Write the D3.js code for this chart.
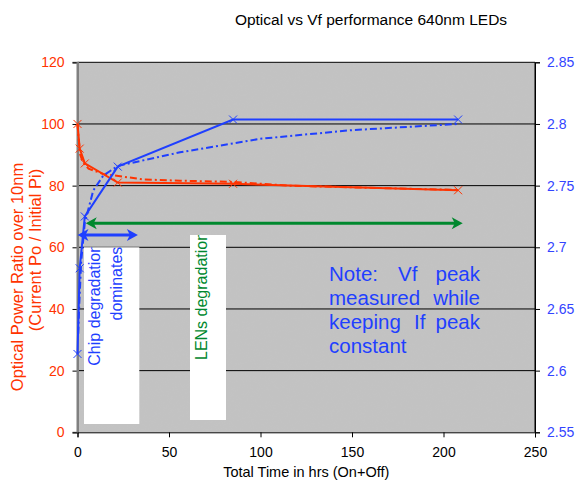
<!DOCTYPE html>
<html><head><meta charset="utf-8">
<script src="https://cdn.jsdelivr.net/npm/d3@7"></script>
<style>html,body{margin:0;padding:0;background:#fff;}svg{display:block;font-family:Arial,"Liberation Sans",sans-serif;}</style>
</head><body><svg id="c" width="577" height="489"></svg>
<script>
// ---- data ----
const title = "Optical vs Vf performance 640nm LEDs";
const xTicks = [0, 50, 100, 150, 200, 250];
const leftTicks = [0, 20, 40, 60, 80, 100, 120];
const rightTicks = [2.55, 2.6, 2.65, 2.7, 2.75, 2.8, 2.85];
// solid series (with markers)
const markTime   = [0, 1.2, 4, 22, 85, 208];
const opticalA   = [100, 92, 87.2, 81, 80.6, 78.5];
const vfA        = [2.6135, 2.683, 2.725, 2.7654, 2.8036, 2.8036];
// dash-dot series
const opticalBTime = [0, 0.5, 1.5, 3, 6, 14, 36, 56, 85, 115, 160, 208];
const opticalB     = [100, 96, 90, 87.5, 85.5, 83.8, 82, 81.6, 81.2, 80, 79.3, 78.6];
const vfBTime = [0.4, 1, 2, 4, 8.6, 14, 22, 56, 100, 150, 208];
const vfB     = [2.63, 2.655, 2.688, 2.72, 2.746, 2.758, 2.766, 2.777, 2.788, 2.795, 2.80];
// annotation arrows (x in hrs, y in left-axis units)
const chipArrow = [0, 33, 64];
const lensArrow = [4.5, 210.5, 67.8];

const RED = "#ff3300", BLUE = "#1f3fff", GREEN = "#00882e", LBLUE = "#3344ff";
const svg = d3.select("#c");
const L = 77.5, R = 535, T = 62.3, B = 432.3;
const x = d3.scaleLinear().domain([0, 250]).range([L, R]);
const yL = d3.scaleLinear().domain([0, 120]).range([B, T]);
const yR = d3.scaleLinear().domain([2.55, 2.85]).range([B, T]);

const defs = svg.append("defs");
const f = defs.append("filter").attr("id", "noise").attr("x", 0).attr("y", 0).attr("width", "100%").attr("height", "100%");
f.append("feTurbulence").attr("type", "fractalNoise").attr("baseFrequency", 0.95).attr("numOctaves", 1).attr("seed", 3);
f.append("feColorMatrix").attr("type", "matrix").attr("values", "0 0 0 0 0.5  0 0 0 0 0.5  0 0 0 0 0.5  0 0 0 0.35 0");
f.append("feComposite").attr("in2", "SourceGraphic").attr("operator", "in");

svg.append("rect").attr("x", L).attr("y", T).attr("width", R - L).attr("height", B - T).attr("fill", "#c3c3c3");
svg.append("rect").attr("x", L).attr("y", T).attr("width", R - L).attr("height", B - T).attr("fill", "#c3c3c3").attr("filter", "url(#noise)").attr("opacity", 0.5);

// gridlines
svg.append("g").selectAll("line").data(leftTicks.filter(d => d > 0)).join("line")
  .attr("x1", L).attr("x2", R).attr("y1", d => yL(d)).attr("y2", d => yL(d))
  .attr("stroke", "#000").attr("stroke-width", 1);
svg.append("line").attr("x1", R).attr("x2", R).attr("y1", T).attr("y2", B).attr("stroke", "#000");

// axes
const fs = "14px";
const gl = svg.append("g").attr("transform", `translate(${L},0)`)
  .call(d3.axisLeft(yL).tickValues(leftTicks).tickSize(5).tickPadding(8).tickFormat(d3.format("d")));
gl.select(".domain").attr("stroke", "#808080").attr("stroke-width", 2);
gl.selectAll(".tick line").attr("stroke", "#000");
gl.selectAll("text").attr("fill", RED).style("font-size", fs).style("font-family", "Arial, 'Liberation Sans', sans-serif");

const gr = svg.append("g").attr("transform", `translate(${R},0)`)
  .call(d3.axisRight(yR).tickValues(rightTicks).tickSize(5).tickPadding(7).tickFormat(d => String(+d.toFixed(2))));
gr.select(".domain").attr("stroke", "#000");
gr.selectAll(".tick line").attr("stroke", "#000");
gr.selectAll("text").attr("fill", LBLUE).style("font-size", fs).style("font-family", "Arial, 'Liberation Sans', sans-serif");

const gb = svg.append("g").attr("transform", `translate(0,${B})`)
  .call(d3.axisBottom(x).tickValues(xTicks).tickSize(5).tickPadding(10).tickFormat(d3.format("d")));
gb.select(".domain").attr("stroke", "#000");
gb.selectAll(".tick line").attr("stroke", "#000");
gb.selectAll("text").attr("fill", "#000").style("font-size", fs).style("font-family", "Arial, 'Liberation Sans', sans-serif");

// re-draw left axis line on top of gridline ends
svg.append("line").attr("x1", L).attr("x2", L).attr("y1", T).attr("y2", B).attr("stroke", "#808080").attr("stroke-width", 2);

// white annotation boxes
svg.append("rect").attr("x", 84).attr("y", 247.3).attr("width", 55.3).attr("height", 176.7).attr("fill", "#fff");
svg.append("rect").attr("x", 190).attr("y", 235).attr("width", 36).attr("height", 185).attr("fill", "#fff");
defs.append("clipPath").attr("id", "clipChip").append("rect").attr("x", 84).attr("y", 247.3).attr("width", 55.3).attr("height", 176.7);
defs.append("clipPath").attr("id", "clipLens").append("rect").attr("x", 190).attr("y", 235).attr("width", 36).attr("height", 185);

const chipG = svg.append("g").attr("clip-path", "url(#clipChip)");
chipG.append("text").attr("transform", "translate(100,365.7) rotate(-90)").attr("fill", BLUE)
  .style("font-size", "16px").text("Chip degradation");
chipG.append("text").attr("transform", "translate(121.5,320.5) rotate(-90)").attr("fill", BLUE)
  .style("font-size", "16px").text("dominates");
svg.append("g").attr("clip-path", "url(#clipLens)").append("text")
  .attr("transform", "translate(206.5,360) rotate(-90)").attr("fill", GREEN)
  .style("font-size", "16px").text("LENs degradation");

// series
const lineGen = (xs, ys, yScale) => d3.line().x((d, i) => x(xs[i])).y((d, i) => yScale(ys[i]))(ys);
svg.append("path").attr("d", lineGen(opticalBTime, opticalB, yL)).attr("fill", "none")
  .attr("stroke", RED).attr("stroke-width", 2).attr("stroke-dasharray", "7,3,2,3");
svg.append("path").attr("d", lineGen(vfBTime, vfB, yR)).attr("fill", "none")
  .attr("stroke", BLUE).attr("stroke-width", 2).attr("stroke-dasharray", "7,3,2,3");
svg.append("path").attr("d", lineGen(markTime, opticalA, yL)).attr("fill", "none")
  .attr("stroke", RED).attr("stroke-width", 2);
svg.append("path").attr("d", lineGen(markTime, vfA, yR)).attr("fill", "none")
  .attr("stroke", BLUE).attr("stroke-width", 2);

const cross = (g, xs, ys, yScale, col) => {
  g.selectAll(null).data(ys).join("path")
    .attr("transform", (d, i) => `translate(${x(xs[i])},${yScale(d)})`)
    .attr("d", "M-4,-4L4,4M-4,4L4,-4").attr("stroke", col).attr("stroke-width", 1).attr("fill", "none");
};
cross(svg.append("g"), markTime, opticalA, yL, RED);
cross(svg.append("g"), markTime, vfA, yR, BLUE);

// arrows
const dblArrow = (x1, x2, yy, col) => {
  const g = svg.append("g");
  const hl = 11, hw = 6;
  g.append("line").attr("x1", x1 + 4).attr("x2", x2 - 4).attr("y1", yy).attr("y2", yy).attr("stroke", col).attr("stroke-width", 3);
  g.append("path").attr("d", `M${x1},${yy}L${x1 + hl},${yy - hw}L${x1 + hl - 3},${yy}L${x1 + hl},${yy + hw}Z`).attr("fill", col);
  g.append("path").attr("d", `M${x2},${yy}L${x2 - hl},${yy - hw}L${x2 - hl + 3},${yy}L${x2 - hl},${yy + hw}Z`).attr("fill", col);
};
dblArrow(x(lensArrow[0]), x(lensArrow[1]), yL(lensArrow[2]), GREEN);
dblArrow(x(chipArrow[0]), x(chipArrow[1]), yL(chipArrow[2]), BLUE);

// note text (justified words)
const note = svg.append("g").attr("fill", BLUE).style("font-size", "20.5px");
const words = [
  ["Note:", 329, 281, "start"], ["Vf", 398, 281, "start"], ["peak", 480, 281, "end"],
  ["measured", 329, 305, "start"], ["while", 480, 305, "end"],
  ["keeping", 329, 329, "start"], ["If", 414, 329, "start"], ["peak", 480, 329, "end"],
  ["constant", 329, 353, "start"]
];
note.selectAll("text").data(words).join("text")
  .attr("x", d => d[1]).attr("y", d => d[2]).attr("text-anchor", d => d[3]).text(d => d[0]);

// titles
svg.append("text").attr("x", 371).attr("y", 25).attr("text-anchor", "middle").style("font-size", "15.5px").attr("fill", "#000").text(title);
svg.append("text").attr("x", (L + R) / 2).attr("y", 477).attr("text-anchor", "middle").style("font-size", "14.5px").attr("fill", "#000").text("Total Time in hrs (On+Off)");
svg.append("text").attr("transform", "translate(23,277) rotate(-90)").attr("text-anchor", "middle").style("font-size", "16.5px").attr("fill", RED).text("Optical Power Ratio over 10nm");
svg.append("text").attr("transform", "translate(41,250) rotate(-90)").attr("text-anchor", "middle").style("font-size", "16.5px").attr("fill", RED).text("(Current Po / Initial Pi)");
</script></body></html>
